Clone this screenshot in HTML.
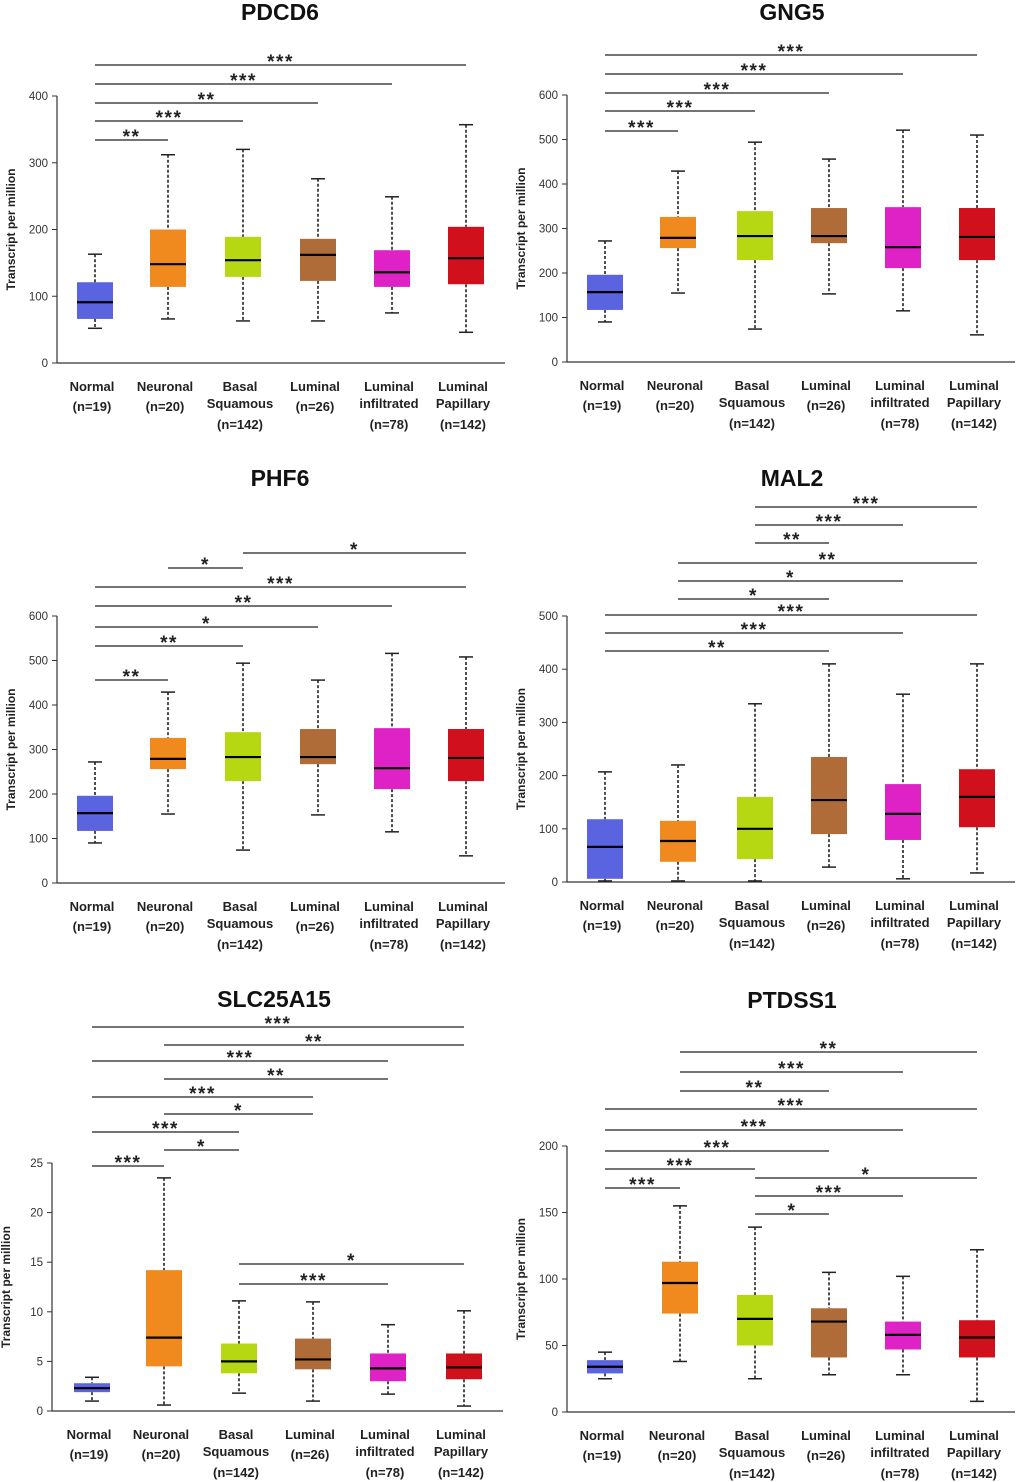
<!DOCTYPE html>
<html><head><meta charset="utf-8">
<style>
html,body{margin:0;padding:0;background:#fff;}
svg{display:block;font-family:"Liberation Sans",sans-serif;}
</style></head>
<body>
<svg id="fig" width="1020" height="1482" viewBox="0 0 1020 1482"></svg>
<script>
const categories = ["Normal","Neuronal","Basal Squamous","Luminal","Luminal infiltrated","Luminal Papillary"];
const catLines = [["Normal","(n=19)"],["Neuronal","(n=20)"],["Basal","Squamous","(n=142)"],["Luminal","(n=26)"],["Luminal","infiltrated","(n=78)"],["Luminal","Papillary","(n=142)"]];
const colors = ["#5a64e0","#f08a1e","#b6d812","#b06c38","#de22c6","#d0101c"];

// PDCD6
const pdcd6Lo  = [52, 66, 63, 63, 75, 46];
const pdcd6Q1  = [66, 114, 129, 123, 114, 118];
const pdcd6Med = [91, 148, 154, 162, 136, 157];
const pdcd6Q3  = [121, 200, 189, 186, 169, 204];
const pdcd6Hi  = [163, 312, 320, 276, 249, 357];
const pdcd6Ticks = [0,100,200,300,400];
const pdcd6Sig = [[0,1,"**"],[0,2,"***"],[0,3,"**"],[0,4,"***"],[0,5,"***"]];
// GNG5
const gng5Lo  = [90, 155, 74, 153, 115, 61];
const gng5Q1  = [117, 256, 229, 267, 211, 229];
const gng5Med = [157, 279, 283, 283, 258, 281];
const gng5Q3  = [196, 326, 339, 346, 348, 346];
const gng5Hi  = [272, 429, 494, 456, 521, 510];
const gng5Ticks = [0,100,200,300,400,500,600];
const gng5Sig = [[0,1,"***"],[0,2,"***"],[0,3,"***"],[0,4,"***"],[0,5,"***"]];
// PHF6
const phf6Lo  = [90, 155, 74, 153, 115, 61];
const phf6Q1  = [117, 256, 229, 267, 211, 229];
const phf6Med = [157, 279, 283, 283, 258, 281];
const phf6Q3  = [196, 326, 339, 346, 348, 346];
const phf6Hi  = [272, 429, 494, 456, 516, 508];
const phf6Ticks = [0,100,200,300,400,500,600];
const phf6Sig = [[0,1,"**"],[0,2,"**"],[0,3,"*"],[0,4,"**"],[0,5,"***"],[1,2,"*"],[2,5,"*"]];
// MAL2
const mal2Lo  = [2, 2, 2, 28, 6, 17];
const mal2Q1  = [6, 38, 43, 90, 79, 103];
const mal2Med = [66, 77, 100, 154, 128, 160];
const mal2Q3  = [118, 115, 160, 235, 184, 212];
const mal2Hi  = [207, 220, 335, 410, 353, 410];
const mal2Ticks = [0,100,200,300,400,500];
const mal2Sig = [[0,3,"**"],[0,4,"***"],[0,5,"***"],[1,3,"*"],[1,4,"*"],[1,5,"**"],[2,3,"**"],[2,4,"***"],[2,5,"***"]];
// SLC25A15
const slcLo  = [1.0, 0.6, 1.8, 1.0, 1.7, 0.5];
const slcQ1  = [1.9, 4.5, 3.8, 4.2, 3.0, 3.2];
const slcMed = [2.3, 7.4, 5.0, 5.2, 4.3, 4.4];
const slcQ3  = [2.8, 14.2, 6.8, 7.3, 5.8, 5.8];
const slcHi  = [3.4, 23.5, 11.1, 11.0, 8.7, 10.1];
const slcTicks = [0,5,10,15,20,25];
const slcSig = [[0,1,"***"],[1,2,"*"],[0,2,"***"],[1,3,"*"],[0,3,"***"],[1,4,"**"],[0,4,"***"],[1,5,"**"],[0,5,"***"],[2,4,"***"],[2,5,"*"]];
// PTDSS1
const ptdLo  = [25, 38, 25, 28, 28, 8];
const ptdQ1  = [29, 74, 50, 41, 47, 41];
const ptdMed = [34, 97, 70, 68, 58, 56];
const ptdQ3  = [39, 113, 88, 78, 68, 69];
const ptdHi  = [45, 155, 139, 105, 102, 122];
const ptdTicks = [0,50,100,150,200];
const ptdSig = [[0,1,"***"],[0,2,"***"],[0,3,"***"],[0,4,"***"],[0,5,"***"],[1,3,"**"],[1,4,"***"],[1,5,"**"],[2,3,"*"],[2,4,"***"],[2,5,"*"]];

const panels = [
 {name:"PDCD6",ax:57,y0:363,yTop:96,vmax:400,xs:[95,168,243,318,392,466],xEnd:505,tx:280,ty:20,
  lo:pdcd6Lo,q1:pdcd6Q1,med:pdcd6Med,q3:pdcd6Q3,hi:pdcd6Hi,ticks:pdcd6Ticks,sig:pdcd6Sig,sigY:[140,121,103,84,65]},
 {name:"GNG5",ax:567,y0:362,yTop:95,vmax:600,xs:[605,678,755,829,903,977],xEnd:1015,tx:792,ty:20,
  lo:gng5Lo,q1:gng5Q1,med:gng5Med,q3:gng5Q3,hi:gng5Hi,ticks:gng5Ticks,sig:gng5Sig,sigY:[131,111,93,74,55]},
 {name:"PHF6",ax:57,y0:883,yTop:616,vmax:600,xs:[95,168,243,318,392,466],xEnd:505,tx:280,ty:486,
  lo:phf6Lo,q1:phf6Q1,med:phf6Med,q3:phf6Q3,hi:phf6Hi,ticks:phf6Ticks,sig:phf6Sig,sigY:[680,646,627,606,587,568,553]},
 {name:"MAL2",ax:567,y0:882,yTop:616,vmax:500,xs:[605,678,755,829,903,977],xEnd:1015,tx:792,ty:486,
  lo:mal2Lo,q1:mal2Q1,med:mal2Med,q3:mal2Q3,hi:mal2Hi,ticks:mal2Ticks,sig:mal2Sig,sigY:[651,633,615,599,581,563,543,525,507]},
 {name:"SLC25A15",ax:52,y0:1411,yTop:1163,vmax:25,xs:[92,164,239,313,388,464],xEnd:503,tx:274,ty:1007,
  lo:slcLo,q1:slcQ1,med:slcMed,q3:slcQ3,hi:slcHi,ticks:slcTicks,sig:slcSig,sigY:[1166,1150,1132,1114,1097,1079,1061,1045,1027,1284,1264]},
 {name:"PTDSS1",ax:567,y0:1412,yTop:1146,vmax:200,xs:[605,680,755,829,903,977],xEnd:1015,tx:792,ty:1008,
  lo:ptdLo,q1:ptdQ1,med:ptdMed,q3:ptdQ3,hi:ptdHi,ticks:ptdTicks,sig:ptdSig,sigY:[1188,1169,1151,1130,1109,1091,1072,1052,1214,1196,1178]}
];

const NS="http://www.w3.org/2000/svg";
const svg=document.getElementById("fig");
function mk(tag,attrs,parent){const e=document.createElementNS(NS,tag);for(const k in attrs)e.setAttribute(k,attrs[k]);(parent||svg).appendChild(e);return e;}

panels.forEach(p=>{
  const g=mk("g",{});
  
  
  const sy=v=>p.y0-(v/p.vmax)*(p.y0-p.yTop);
  const t=mk("text",{x:p.tx,y:p.ty,"text-anchor":"middle","font-size":"23","font-weight":"bold",fill:"#111"},g);
  t.textContent=p.name;
  
  
  const ya=mk("line",{x1:p.ax,y1:p.yTop,x2:p.ax,y2:p.y0,stroke:"#333","stroke-width":1.2},g);
  
  
  const xa=mk("line",{x1:p.ax,y1:p.y0,x2:p.xEnd,y2:p.y0,stroke:"#333","stroke-width":1.2},g);
  
  
  p.ticks.forEach(v=>{
    mk("line",{x1:p.ax-5,y1:sy(v),x2:p.ax,y2:sy(v),stroke:"#333","stroke-width":1},g);
    const tl=mk("text",{x:p.ax-9,y:sy(v)+4,"text-anchor":"end","font-size":"11.5",fill:"#333"},g);
    tl.textContent=v;
    
    
  });
  const ymid=(p.y0+p.yTop)/2;
  const yt=mk("text",{x:0,y:0,"text-anchor":"middle","font-size":"12","font-weight":"bold",fill:"#222",transform:`translate(${p.ax-42},${ymid}) rotate(-90)`},g);
  yt.textContent="Transcript per million";
  
  
  p.xs.forEach((x,i)=>{
    const bg=mk("g",{},g);
    
    
    mk("line",{x1:x,y1:sy(p.hi[i]),x2:x,y2:sy(p.q3[i]),stroke:"#222","stroke-width":1.6,"stroke-dasharray":"3,2"},bg);
    mk("line",{x1:x,y1:sy(p.q1[i]),x2:x,y2:sy(p.lo[i]),stroke:"#222","stroke-width":1.6,"stroke-dasharray":"3,2"},bg);
    mk("line",{x1:x-7,y1:sy(p.hi[i]),x2:x+7,y2:sy(p.hi[i]),stroke:"#222","stroke-width":1.5},bg);
    mk("line",{x1:x-7,y1:sy(p.lo[i]),x2:x+7,y2:sy(p.lo[i]),stroke:"#222","stroke-width":1.5},bg);
    mk("rect",{x:x-18,y:sy(p.q3[i]),width:36,height:sy(p.q1[i])-sy(p.q3[i]),fill:colors[i]},bg);
    mk("line",{x1:x-18,y1:sy(p.med[i]),x2:x+18,y2:sy(p.med[i]),stroke:"#000","stroke-width":2.2},bg);
    const offs=catLines[i].length===2?[0,20]:[0,17,38];
    catLines[i].forEach((ln,j)=>{
      const ct=mk("text",{x:x-3,y:p.y0+28+offs[j],"text-anchor":"middle","font-size":"13","font-weight":"bold",fill:"#222"},g);
      ct.textContent=ln;
      
      
    });
  });
  p.sig.forEach((s,k)=>{
    const y=p.sigY[k];
    const x1=p.xs[s[0]], x2=p.xs[s[1]];
    const sl=mk("line",{x1:x1,y1:y,x2:x2,y2:y,stroke:"#222","stroke-width":1.2},g);
    
    
    const st=mk("text",{x:(x1+x2)/2,y:y+3,"text-anchor":"middle","font-size":"19","font-weight":"bold","letter-spacing":"1.5",fill:"#222"},g);
    st.textContent=s[2];
    
    
  });
});
</script>
</body></html>
